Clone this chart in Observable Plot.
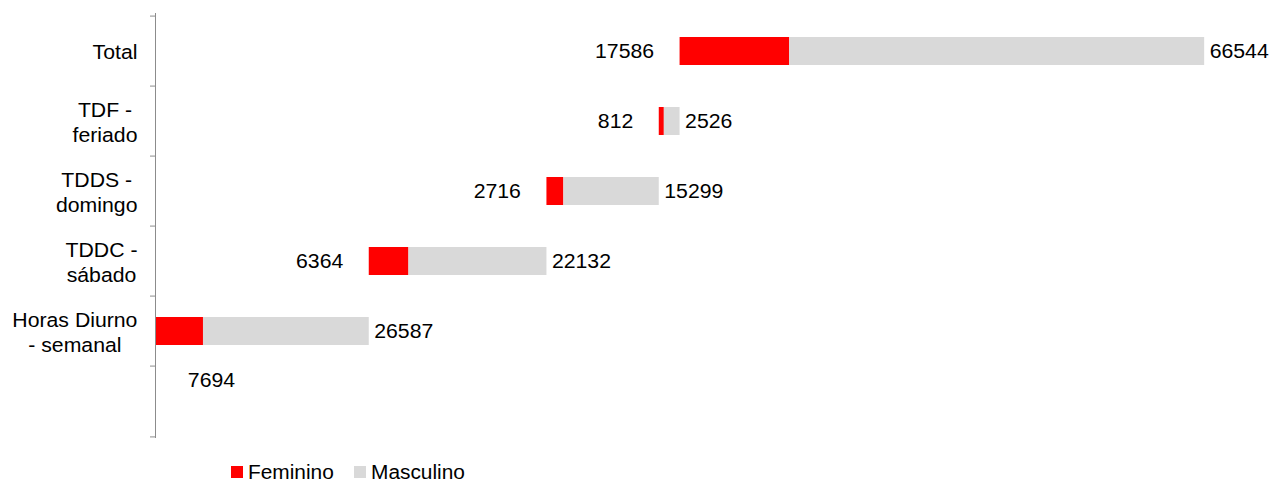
<!DOCTYPE html>
<html>
<head>
<meta charset="utf-8">
<script src="https://cdn.jsdelivr.net/npm/d3@7"></script>
<script src="https://cdn.jsdelivr.net/npm/@observablehq/plot@0.6"></script>
<style>
  html, body { margin: 0; padding: 0; background: #fff; }
  body { font-family: "Liberation Sans", Arial, sans-serif; }
  #legend { display: flex; align-items: center; height: 26px; margin-left: 231px; font-size: 19.5px; color: #000; }
  #legend .item { display: flex; align-items: center; margin-right: 26px; }
  #legend .sw { width: 12px; height: 12px; margin-right: 5px; }
  #legend span { display: inline-block; transform: scaleX(1.07); transform-origin: left center; }
</style>
</head>
<body>
<div id="chart"></div>
<div id="legend"></div>
<script>
// ---- data ----
const categories = ["Horas Diurno\n- semanal", "TDDC -\nsábado", "TDDS -\ndomingo", "TDF -\nferiado", "Total"];
const feminino  = [7694, 6364, 2716, 812, 17586];
const masculino = [26587, 22132, 15299, 2526, 66544];
const seriesNames = ["Feminino", "Masculino"];
const seriesColors = ["#ff0000", "#d9d9d9"];

// ---- build rows (waterfall: each row starts where the previous ended) ----
let cum = 0;
const rows = categories.map((cat, i) => {
  const r = {cat, fem: feminino[i], masc: masculino[i], base: cum};
  cum += feminino[i] + masculino[i];
  return r;
});

const yDomain = [...categories].reverse().concat([" "]);
const W = 1271, H = 459, mt = 13, mb = 21, ml = 155, mr = 56;
const step = (H - mt - mb) / yDomain.length;
const font = "Liberation Sans, Arial, sans-serif";
const fs = 19.5;
const stretch = 1.09;
const axisGrey = "#8c8c8c";

const chart = Plot.plot({
  width: W,
  height: H,
  marginTop: mt,
  marginBottom: mb,
  marginLeft: ml,
  marginRight: mr,
  style: {fontFamily: font, fontSize: fs + "px", background: "#fff", overflow: "visible"},
  x: {domain: [0, 170000], axis: null},
  y: {domain: yDomain, paddingInner: 0.6, paddingOuter: 0.3},
  marks: [
    Plot.barX(rows, {y: "cat", x1: "base", x2: d => d.base + d.fem, fill: seriesColors[0]}),
    Plot.barX(rows, {y: "cat", x1: d => d.base + d.fem, x2: d => d.base + d.fem + d.masc, fill: seriesColors[1]}),
    // feminino labels (left of bar start)
    Plot.text(rows.slice(1), {x: "base", y: "cat", text: d => String(d.fem), textAnchor: "end", dx: -26, fontSize: fs, fill: "#000"}),
    // first row feminino label placed below
    Plot.text(rows.slice(0, 1), {x: d => d.base + d.fem, y: "cat", text: d => String(d.fem), textAnchor: "middle", dx: 8, dy: 49, fontSize: fs, fill: "#000"}),
    // masculino labels (right of bar end)
    Plot.text(rows, {x: d => d.base + d.fem + d.masc, y: "cat", text: d => String(d.masc), textAnchor: "start", dx: 5, fontSize: fs, fill: "#000"}),
    // axis line and band boundary ticks
    Plot.ruleX([0], {stroke: axisGrey}),
    Plot.ruleY(yDomain, {y: d => d, x1: 0, x2: 0, insetLeft: -5, dy: -step / 2, stroke: axisGrey}),
    Plot.ruleY(yDomain.slice(-1), {y: d => d, x1: 0, x2: 0, insetLeft: -5, dy: step / 2, stroke: axisGrey}),
    Plot.axisY({tickSize: 0, tickPadding: 18, fontSize: fs, lineHeight: 1.28, fill: "#000", label: null})
  ]
});
document.getElementById("chart").appendChild(chart);

// center the lines of each category label within its right-aligned block
const tickTexts = new Set(chart.querySelectorAll('g[aria-label="y-axis tick label"] text'));
tickTexts.forEach(t => {
  const spans = t.querySelectorAll("tspan");
  let w = 0;
  if (spans.length) spans.forEach(s => { w = Math.max(w, s.getComputedTextLength()); });
  else w = t.getComputedTextLength();
  t.setAttribute("text-anchor", "middle");
  const tr = t.getAttribute("transform") || "";
  t.setAttribute("transform", tr + ` translate(${-w * stretch / 2},0)`);
});

// horizontal stretch of all chart text around its anchor point
chart.querySelectorAll("text").forEach(t => {
  let tr = t.getAttribute("transform");
  if (!tr) {
    const x = t.getAttribute("x"), y = t.getAttribute("y");
    if (x !== null || y !== null) {
      tr = `translate(${x || 0},${y || 0})`;
      t.removeAttribute("x");
      t.removeAttribute("y");
    } else tr = "";
  }
  t.setAttribute("transform", tr + ` scale(${stretch},1)`);
});

// legend
const legend = document.getElementById("legend");
seriesNames.forEach((name, i) => {
  const item = document.createElement("div");
  item.className = "item";
  const sw = document.createElement("div");
  sw.className = "sw";
  sw.style.background = seriesColors[i];
  const lab = document.createElement("span");
  lab.textContent = name;
  item.appendChild(sw);
  item.appendChild(lab);
  legend.appendChild(item);
});
</script>
</body>
</html>
